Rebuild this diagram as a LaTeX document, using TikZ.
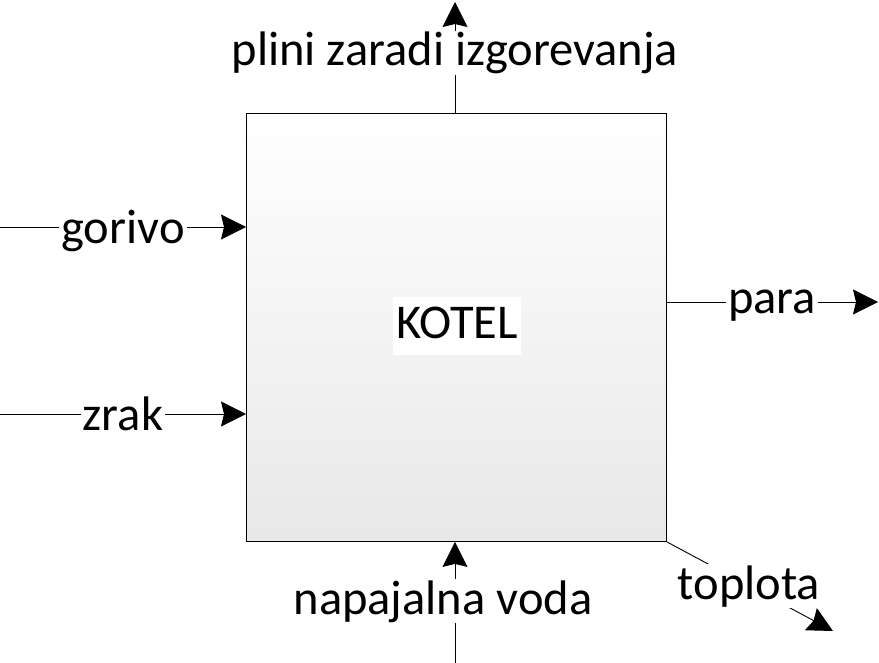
\documentclass[tikz,border=0pt]{standalone}
\usepackage{fontspec}
\setmainfont{Carlito}
\usetikzlibrary{arrows.meta}
\begin{document}
\begin{tikzpicture}[x=1pt,y=-1pt,
  arr/.style={draw=black,line width=0.9pt,-{Stealth[length=25pt,width=25pt,inset=3pt]}},
  lbl/.style={fill=white,inner xsep=2pt,inner ysep=1pt,anchor=base,font=\fontsize{48.5}{52}\selectfont},
  boxstyle/.style={draw=black,line width=0.9pt,top color=white,bottom color=black!9,minimum width=420pt,minimum height=428pt,anchor=north west,inner sep=0pt}
]
\useasboundingbox (0,0) rectangle (879,663);
\node[boxstyle] (kotel) at (246,113) {};
% free ends
\coordinate (topEnd) at (455,2);
\coordinate (gorivoIn) at (0,227);
\coordinate (zrakIn) at (0,414);
\coordinate (paraEnd) at (878,302);
\coordinate (vodaIn) at (455,663);
\coordinate (toplotaEnd) at (833,631);
% connectors
\draw[arr] (kotel.north -| topEnd) -- (topEnd);
\draw[arr] (gorivoIn) -- (kotel.west |- gorivoIn);
\draw[arr] (zrakIn) -- (kotel.west |- zrakIn);
\draw[arr] (kotel.east |- paraEnd) -- (paraEnd);
\draw[arr] (vodaIn) -- (kotel.south -| vodaIn);
\draw[arr] (kotel.south east) -- (toplotaEnd);
% labels
\node[lbl] (lplini) at (455,66) {plini zaradi izgorevanja};
\node[lbl] (lgorivo) at (123,244) {gorivo};
\node[lbl] (lzrak) at (123,430) {zrak};
\node[lbl] (lpara) at (772,314) {para};
\node[lbl] (lvoda) at (443,614) {napajalna voda};
\node[lbl] (ltoplota) at (749,599) {toplota};
\node[fill=white,anchor=base,inner xsep=3pt,inner ysep=0pt,text height=41pt,text depth=17pt,font=\fontsize{48.5}{52}\selectfont] (ltext) at (457,338) {KOTEL};
\end{tikzpicture}
\end{document}
